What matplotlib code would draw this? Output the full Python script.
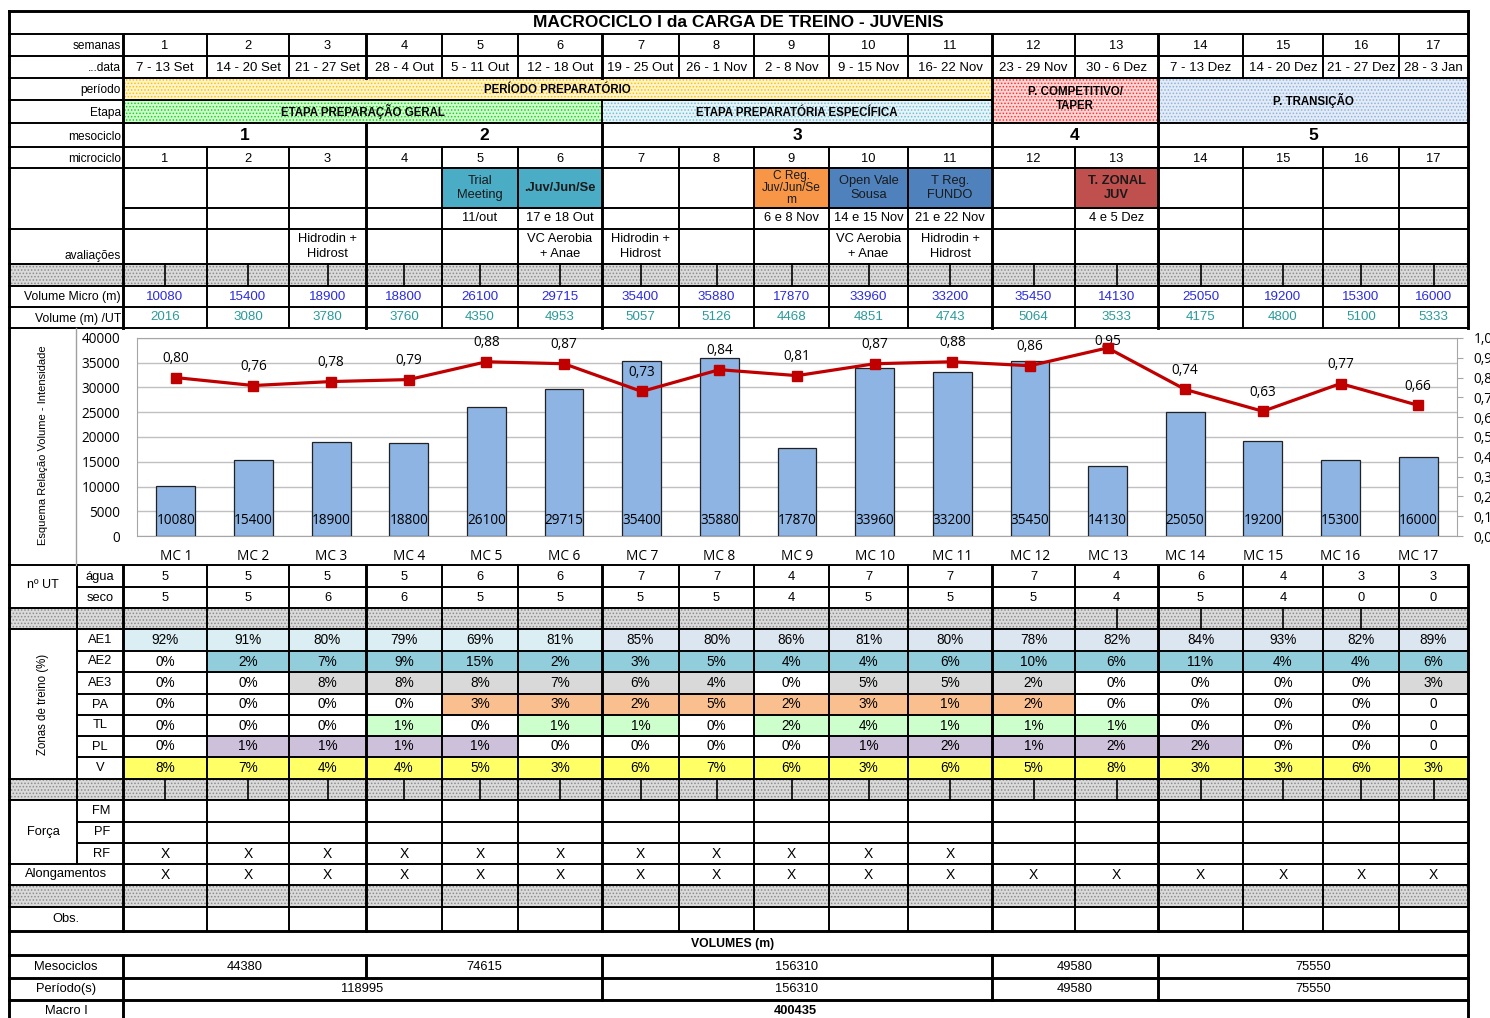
import numpy as np
import matplotlib
matplotlib.use("Agg")
import matplotlib.pyplot as plt
from matplotlib.patches import Rectangle

plt.rcParams['font.family'] = ['Liberation Sans', 'DejaVu Sans']
plt.rcParams['hatch.linewidth'] = 0.7
NARROW = ['Liberation Sans Narrow', 'Liberation Sans', 'DejaVu Sans']
CHARTF = ['Open Sans', 'DejaVu Sans']

# ---------------- data ----------------
titulo = "MACROCICLO I da CARGA DE TREINO - JUVENIS"
semanas = ["1", "2", "3", "4", "5", "6", "7", "8", "9", "10", "11", "12", "13", "14", "15", "16", "17"]
datas = ["7 - 13 Set", "14 - 20 Set", "21 - 27 Set", "28 - 4 Out", "5 - 11 Out", "12 - 18 Out",
         "19 - 25 Out", "26 - 1 Nov", "2 - 8 Nov", "9 - 15 Nov", "16- 22 Nov", "23 - 29 Nov",
         "30 - 6 Dez", "7 - 13 Dez", "14 - 20 Dez", "21 - 27 Dez", "28 - 3 Jan"]
microciclos = semanas
vol_micro = [10080, 15400, 18900, 18800, 26100, 29715, 35400, 35880, 17870,
             33960, 33200, 35450, 14130, 25050, 19200, 15300, 16000]
vol_ut = [2016, 3080, 3780, 3760, 4350, 4953, 5057, 5126, 4468,
          4851, 4743, 5064, 3533, 4175, 4800, 5100, 5333]
intensidade = [0.80, 0.76, 0.78, 0.79, 0.88, 0.87, 0.73, 0.84, 0.81,
               0.87, 0.88, 0.86, 0.95, 0.74, 0.63, 0.77, 0.66]
mc_labels = ["MC %d" % (i + 1) for i in range(17)]

# mesociclos / periodos
meso_labels = ["1", "2", "3", "4", "5"]
meso_weeks = [3, 3, 5, 2, 4]
meso_vol = [44380, 74615, 156310, 49580, 75550]
periodo_weeks = [6, 5, 2, 4]
periodo_vol = [118995, 156310, 49580, 75550]
macro_vol = 400435

# competicoes
ev_week = [5, 6, 9, 10, 11, 13]
ev_name = ["Trial\nMeeting", ".Juv/Jun/Se", "C Reg.\nJuv/Jun/Se\nm", "Open Vale\nSousa", "T Reg.\nFUNDO", "T. ZONAL\nJUV"]
ev_date = ["11/out", "17 e 18 Out", "6 e 8 Nov", "14 e 15 Nov", "21 e 22 Nov", "4 e 5 Dez"]
# avaliacoes
av_week = [3, 6, 7, 10, 11]
av_txt = ["Hidrodin +\nHidrost", "VC Aerobia\n+ Anae", "Hidrodin +\nHidrost", "VC Aerobia\n+ Anae", "Hidrodin +\nHidrost"]

# n UT
agua = [5, 5, 5, 5, 6, 6, 7, 7, 4, 7, 7, 7, 4, 6, 4, 3, 3]
seco = [5, 5, 6, 6, 5, 5, 5, 5, 4, 5, 5, 5, 4, 5, 4, 0, 0]

# zonas de treino (%)
zonas = ["AE1", "AE2", "AE3", "PA", "TL", "PL", "V"]
ae1 = ["92%", "91%", "80%", "79%", "69%", "81%", "85%", "80%", "86%", "81%", "80%", "78%", "82%", "84%", "93%", "82%", "89%"]
ae2 = ["0%", "2%", "7%", "9%", "15%", "2%", "3%", "5%", "4%", "4%", "6%", "10%", "6%", "11%", "4%", "4%", "6%"]
ae3 = ["0%", "0%", "8%", "8%", "8%", "7%", "6%", "4%", "0%", "5%", "5%", "2%", "0%", "0%", "0%", "0%", "3%"]
pa = ["0%", "0%", "0%", "0%", "3%", "3%", "2%", "5%", "2%", "3%", "1%", "2%", "0%", "0%", "0%", "0%", "0"]
tl = ["0%", "0%", "0%", "1%", "0%", "1%", "1%", "0%", "2%", "4%", "1%", "1%", "1%", "0%", "0%", "0%", "0"]
pl = ["0%", "1%", "1%", "1%", "1%", "0%", "0%", "0%", "0%", "1%", "2%", "1%", "2%", "2%", "0%", "0%", "0"]
v = ["8%", "7%", "4%", "4%", "5%", "3%", "6%", "7%", "6%", "3%", "6%", "5%", "8%", "3%", "3%", "6%", "3%"]

# forca / alongamentos
rf = ["X"] * 11 + [""] * 6
alongamentos = ["X"] * 17

# ---------------- layout (pixels) ----------------
W, H = 1490, 1018
XL, XS, XR = 9, 77, 1468
XE = [123, 207, 289, 366, 442, 518, 602, 679, 754, 829, 908, 992, 1075, 1158, 1243, 1323, 1399, 1468]
CX = [(XE[i] + XE[i + 1]) / 2 for i in range(17)]
meso_idx = list(np.cumsum([0] + meso_weeks))
per_idx = list(np.cumsum([0] + periodo_weeks))

zone_fill = {"AE2": '#92CDDC', "AE3": '#D9D9D9', "PA": '#FABF8F', "TL": '#CCFFCC', "PL": '#CCC0DA', "V": '#FFFF66'}
ev_color = ['#4BACC6', '#4BACC6', '#F79646', '#4F81BD', '#4F81BD', '#C0504D']
ev_bold = [False, True, False, False, False, True]
FS = 9.3

fig = plt.figure(figsize=(W / 100, H / 100), dpi=100)
ax = fig.add_axes([0, 0, 1, 1])
ax.set_xlim(0, W)
ax.set_ylim(H, 0)
ax.axis('off')


def box(x0, y0, x1, y1, fc, hc=None, hatch=None, z=1):
    ax.add_patch(Rectangle((x0, y0), x1 - x0, y1 - y0, facecolor=fc,
                           edgecolor=hc if hc else 'none', hatch=hatch, lw=0, zorder=z))


def hl(y, x0=XL, x1=XR, lw=1.4, c='k'):
    ax.plot([x0, x1], [y, y], color=c, lw=lw, solid_capstyle='projecting', zorder=6)


def vl(x, y0, y1, lw=1.4, c='k'):
    ax.plot([x, x], [y0, y1], color=c, lw=lw, solid_capstyle='projecting', zorder=6)


def tx(x, y, s, size=FS, ha='center', va='center', **kw):
    ax.text(x, y, s, fontsize=size, ha=ha, va=va, zorder=8, **kw)


GRAY_FC, GRAY_HC = '#dadada', '#8c8c8c'


def hatch_row(y0, y1, mids=True, x0=XL):
    box(x0, y0, XR, y1, GRAY_FC, GRAY_HC, '.....')
    if mids:
        for c in CX:
            vl(c, y0, y1, lw=1.2)


# title
tx((XL + XR) / 2, 22.5, titulo, size=12.5, weight='bold')

# left labels of header
lab_x = 121
tx(lab_x, 46, "semanas", ha='right', size=8.6)
tx(lab_x, 68, "...data", ha='right', size=8.6)
tx(lab_x, 90, "período", ha='right', size=8.6)
tx(lab_x, 113, "Etapa", ha='right', size=8.6)
tx(lab_x, 137, "mesociclo", ha='right', size=8.6)
tx(lab_x, 159, "microciclo", ha='right', size=8.6)
tx(lab_x, 256, "avaliações", ha='right', size=8.6)
tx(lab_x, 297, "Volume Micro (m)", ha='right', size=8.8)
tx(lab_x, 319, "Volume (m) /UT", ha='right', size=8.8)

for i in range(17):
    tx(CX[i], 46, semanas[i])
    tx(CX[i], 68, datas[i], size=9.5)
    tx(CX[i], 159, microciclos[i])
    tx(CX[i], 296.5, str(vol_micro[i]), color='#2b2be6', size=9.6)
    tx(CX[i], 317.5, str(vol_ut[i]), color='#2a9a9a', size=9.6)

# periods and stages
box(XE[0], 79, XE[11], 99.5, '#fff4cc', '#ffc000', '.....')
tx((XE[0] + XE[11]) / 2, 90, "PERÍODO PREPARATÓRIO", size=8.3, weight='bold')
box(XE[0], 100.5, XE[6], 122, '#ccffcc', '#22cc22', '.....')
tx((XE[0] + XE[6]) / 2, 111, "ETAPA PREPARAÇÃO GERAL", size=8.3, weight='bold')
box(XE[6], 100.5, XE[11], 122, '#e6f3f7', '#6fc0d6', '.....')
tx((XE[6] + XE[11]) / 2, 113, "ETAPA PREPARATÓRIA ESPECÍFICA", size=8.3, weight='bold')
box(XE[11], 79, XE[13], 122, '#ffd6d6', '#ff3030', '.....')
tx((XE[11] + XE[13]) / 2, 99, "P. COMPETITIVO/\nTAPER", size=8.3, weight='bold', linespacing=1.3)
box(XE[13], 79, XE[17], 122, '#e2ebf6', '#8fb3de', '.....')
tx((XE[13] + XE[17]) / 2, 100, "P. TRANSIÇÃO", size=8.3, weight='bold')

# mesociclos
for k in range(5):
    tx((XE[meso_idx[k]] + XE[meso_idx[k + 1]]) / 2, 135, meso_labels[k], size=12.5, weight='bold')

# events
for k, wk in enumerate(ev_week):
    i = wk - 1
    box(XE[i], 168, XE[i + 1], 208, ev_color[k])
    tx(CX[i], 188, ev_name[k], size=9.3 if k != 2 else 8.6, weight='bold' if ev_bold[k] else 'normal',
       color='#1a1a1a', linespacing=1.0 if k == 2 else 1.2)
    tx(CX[i], 218, ev_date[k], size=9.3)
for k, wk in enumerate(av_week):
    tx(CX[wk - 1], 246.5, av_txt[k], size=9.3, linespacing=1.25)

# hatched separator rows
hatch_row(264, 286)

# chart area labels
tx(43, 445, "Esquema Relação Volume - Intensidade", size=8, rotation=90)

# nº UT
tx(43, 585, "nº UT", size=9)
tx(100, 577, "água", size=9.3)
tx(100, 598, "seco", size=9.3)
for i in range(17):
    tx(CX[i], 577, str(agua[i]))
    tx(CX[i], 598, str(seco[i]))
box(XL, 608, XR, 629, GRAY_FC, GRAY_HC, '.....')
for i in [12, 13, 14, 15]:
    vl(CX[i], 608, 629, lw=1.2)

# zonas
zy = [629, 651, 672, 694, 715, 736, 757, 779]
zrows = [ae1, ae2, ae3, pa, tl, pl, v]
for r, (name, vals) in enumerate(zip(zonas, zrows)):
    y0, y1 = zy[r], zy[r + 1]
    tx(100, (y0 + y1) / 2, name, size=9.3)
    for i in range(17):
        if name == "AE1":
            fc = '#DAEEF3' if i < 6 else '#DCE6F1'
        elif name == "V" or not vals[i].startswith("0"):
            fc = zone_fill[name]
        else:
            fc = None
        if fc:
            box(XE[i], y0, XE[i + 1], y1, fc)
        tx(CX[i], (y0 + y1) / 2, vals[i], size=9.8)
tx(43, 704, "Zonas de treino (%)", size=8.3, rotation=90)

hatch_row(779, 800)
vl(XS, 779, 800, lw=1.2)

# forca
tx(43, 832, "Força", size=9.3, family=NARROW)
for nm, y in zip(["FM", "PF", "RF"], [811, 832, 854]):
    tx(110, y, nm, size=9.3, family=NARROW, ha='right')
tx(66, 874, "Alongamentos", size=9.3, family=NARROW)
for i in range(17):
    tx(CX[i], 854, rf[i], size=10, family=NARROW)
    tx(CX[i], 875, alongamentos[i], size=10, family=NARROW)
box(XL, 885, XR, 907, GRAY_FC, GRAY_HC, '.....')
tx(66, 919, "Obs.", size=9.3, family=NARROW)

# volumes
tx((XL + XR) / 2 - 6, 944, "VOLUMES (m)", size=8.8, weight='bold', family=NARROW)
tx(66, 967, "Mesociclos", size=9.3, family=NARROW)
tx(66, 989, "Período(s)", size=9.3, family=NARROW)
tx(66, 1011, "Macro I", size=9.3, family=NARROW)
for k in range(5):
    tx((XE[meso_idx[k]] + XE[meso_idx[k + 1]]) / 2, 967, str(meso_vol[k]), size=9.3, family=NARROW)
for k in range(4):
    tx((XE[per_idx[k]] + XE[per_idx[k + 1]]) / 2, 989, str(periodo_vol[k]), size=9.3, family=NARROW)
tx((XE[0] + XE[-1]) / 2, 1011, str(macro_vol), size=9.3, family=NARROW, weight='bold')

# ---------------- grid lines ----------------
TH = 2.1
# horizontals
for y in [34, 56, 78, 123, 147, 168, 229, 264, 286, 307, 328, 565, 608, 629, 779, 800, 864, 885, 907]:
    hl(y)
hl(100, XL, XE[11])
hl(208, XE[0], XR)
for y in [587] + zy[1:-1] + [822, 843]:
    hl(y, XS, XR)
for y in [931, 955, 978, 1000]:
    hl(y, lw=TH)
hl(11, lw=TH)

# outer border
vl(XL, 11, 1018, lw=TH)
vl(XR, 11, 328, lw=TH)
vl(XR, 565, 1018, lw=TH)

# verticals
vl(XE[0], 34, 328, lw=TH)
vl(XE[0], 565, 931, lw=TH)
vl(XE[0], 955, 1018, lw=TH)
for i in range(1, 17):
    lw = TH if i in meso_idx else 1.4
    vl(XE[i], 34, 78, lw=lw)
    vl(XE[i], 147, 328, lw=lw)
    vl(XE[i], 565, 931, lw=lw)
for i in meso_idx[1:-1]:
    vl(XE[i], 123, 147, lw=TH)
    vl(XE[i], 955, 978, lw=TH)
for i in per_idx[1:-1]:
    vl(XE[i], 978, 1000, lw=TH)
vl(XE[11], 78, 123, lw=TH)
vl(XE[13], 78, 123, lw=TH)
vl(XE[6], 100, 123, lw=1.4)
vl(XS, 565, 800)
vl(XS, 800, 864)
vl(76, 328, 565, lw=1.0, c='#a0a0a0')

# ---------------- chart ----------------
top, bot, left, right = 338, 536, 137, 1457
cax = fig.add_axes([left / W, 1 - bot / H, (right - left) / W, (bot - top) / H])
xpos = np.arange(17) + 0.5
cax.bar(xpos, vol_micro, width=0.5, color='#8DB4E2', edgecolor='#222222', lw=0.9, zorder=3)
cax.set_xlim(0, 17)
cax.set_ylim(0, 40000)
cax.set_yticks(np.arange(0, 40001, 5000))
cax.set_yticklabels([str(t) for t in range(0, 40001, 5000)], family=CHARTF, fontsize=9.8)
cax.set_xticks(xpos)
cax.set_xticklabels(mc_labels, family=CHARTF, fontsize=9.8)
cax.tick_params(axis='x', length=0, pad=9)
cax.tick_params(axis='y', length=0, pad=12)
cax.yaxis.grid(True, color='#c0c0c0', lw=1.0, zorder=0)
cax.set_axisbelow(True)
for s in cax.spines.values():
    s.set_color('#a6a6a6')
for xi, val in zip(xpos, vol_micro):
    cax.annotate(str(val), (xi, 0), xytext=(0, 15), textcoords='offset pixels',
                 ha='center', va='center', fontsize=9.8, family=CHARTF, zorder=5)

cax2 = cax.twinx()
cax2.set_ylim(0, 1.0)
cax2.set_yticks(np.arange(0, 1.01, 0.1))
cax2.set_yticklabels([("%.1f" % t).replace('.', ',') for t in np.arange(0, 1.01, 0.1)],
                     family=CHARTF, fontsize=9.8)
cax2.tick_params(axis='y', length=4, pad=8, color='#a6a6a6')
for s in cax2.spines.values():
    s.set_visible(False)
cax2.plot(xpos, intensidade, color='#C00000', lw=2.3, marker='s', ms=7.5, zorder=4)
for xi, val in zip(xpos, intensidade):
    off = min(19, (1.0 - val) * (bot - top) - 4)
    cax2.annotate(("%.2f" % val).replace('.', ','), (xi, val), xytext=(0, off), textcoords='offset pixels',
                  ha='center', va='center', fontsize=9.8, family=CHARTF)

fig.savefig("out.png", dpi=100)
